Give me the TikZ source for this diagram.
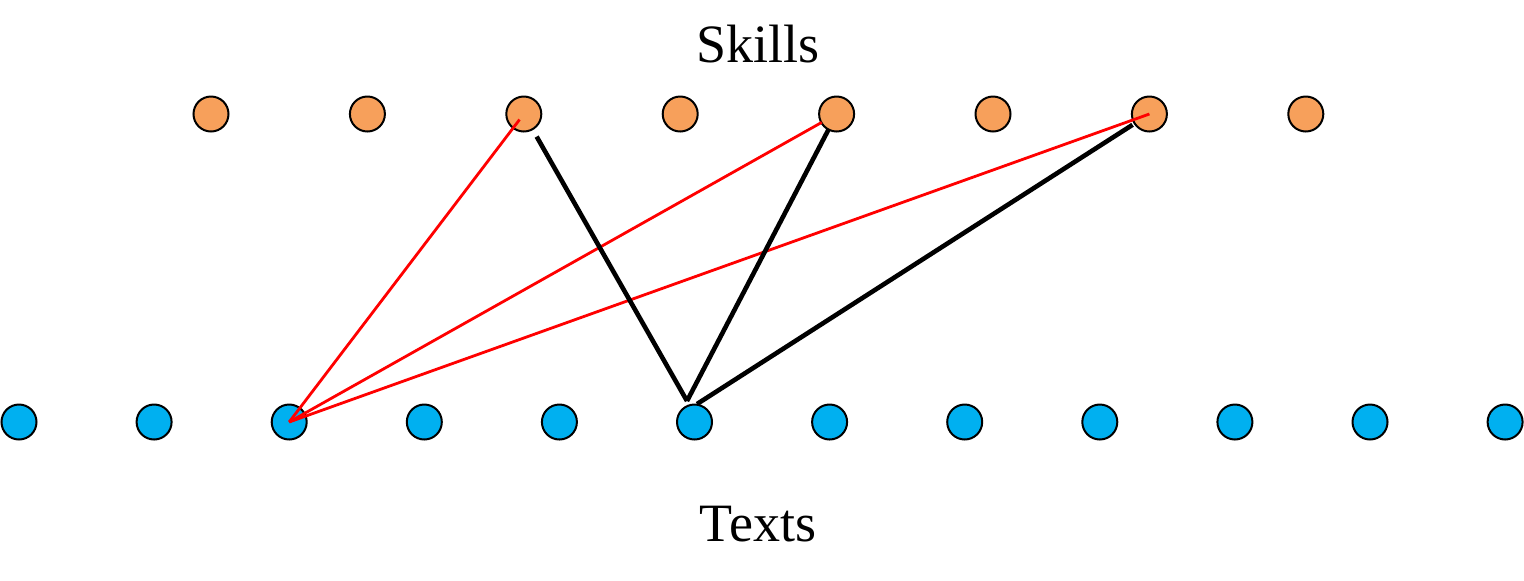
\documentclass[tikz,border=0pt]{standalone}
\usepackage{fontspec}
\setmainfont{Liberation Serif}
\definecolor{skillc}{HTML}{F7A05B}
\definecolor{textc}{HTML}{00B0F0}
\definecolor{redc}{HTML}{FF0000}
\begin{document}
\begin{tikzpicture}[x=0.5pt,y=-0.5pt,
  dot/.style={circle,draw=black,line width=1pt,minimum size=17.5pt,inner sep=0pt},
  skill/.style={dot,fill=skillc},
  txt/.style={dot,fill=textc},
  redline/.style={draw=redc,line width=1.4pt},
  blkline/.style={draw=black,line width=2.3pt},
  lbl/.style={font=\fontsize{27}{30}\selectfont,anchor=base,inner sep=0pt}]
\useasboundingbox (0,0) rectangle (1524,580);
\foreach \i in {1,...,8}{
  \node[skill] (s\i) at ({211+(\i-1)*156.4},114) {};
}
\foreach \i in {1,...,12}{
  \node[txt] (b\i) at ({19+(\i-1)*135.1},422) {};
}
\node[lbl] (skills) at (758,62) {Skills};
\node[lbl] (texts) at (758,541) {Texts};
\coordinate (j) at (687,401);
\coordinate (j2) at (697,404);
% red connectors
\draw[redline, shorten >=3.5pt] (b3.center) -- (s3.center);
\draw[redline, shorten >=8.5pt] (b3.center) -- (s5.center);
\draw[redline] (b3.center) -- (s7.center);
% black connectors
\draw[blkline, shorten <=13pt] (s3.center) -- (j);
\draw[blkline, shorten >=8.5pt] (j) -- (s5.center);
\draw[blkline, shorten >=10pt] (j2) -- (s7.center);
\end{tikzpicture}
\end{document}
